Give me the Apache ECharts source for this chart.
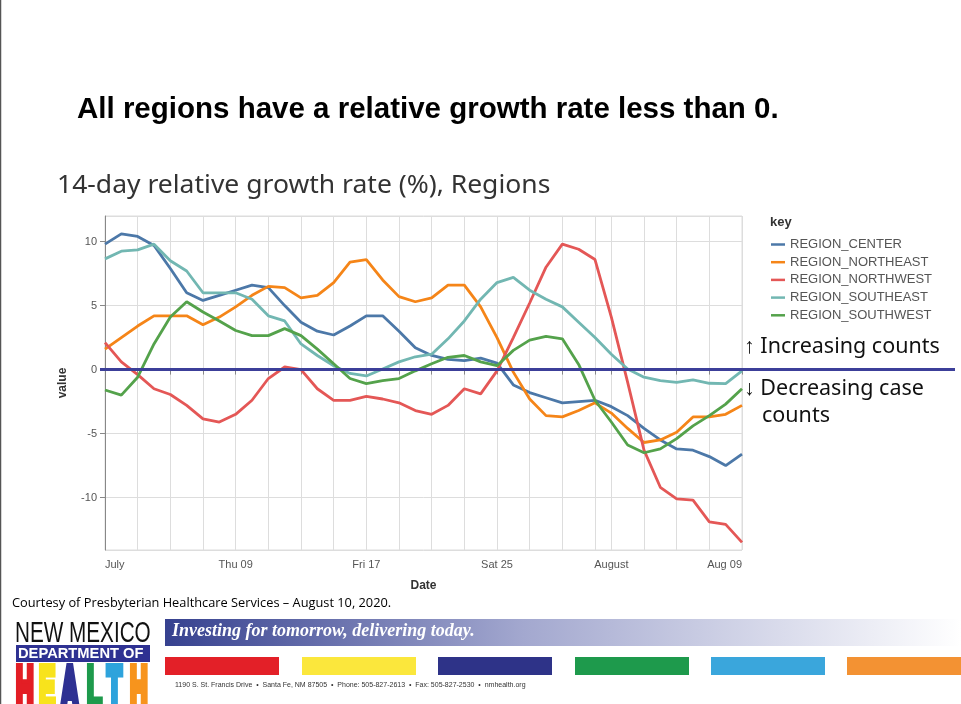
<!DOCTYPE html>
<html>
<head>
<meta charset="utf-8">
<script src="https://cdn.jsdelivr.net/npm/echarts@6/dist/echarts.min.js"></script>
<style>
html,body{margin:0;padding:0;background:#fff;}
#chart{width:961px;height:704px;}
</style>
</head>
<body>
<div id="chart"></div>
<script>
// ---------- data ----------
const categories = [
  "2020-07-01","2020-07-02","2020-07-03","2020-07-04","2020-07-05","2020-07-06","2020-07-07","2020-07-08",
  "2020-07-09","2020-07-10","2020-07-11","2020-07-12","2020-07-13","2020-07-14","2020-07-15","2020-07-16",
  "2020-07-17","2020-07-18","2020-07-19","2020-07-20","2020-07-21","2020-07-22","2020-07-23","2020-07-24",
  "2020-07-25","2020-07-26","2020-07-27","2020-07-28","2020-07-29","2020-07-30","2020-07-31","2020-08-01",
  "2020-08-02","2020-08-03","2020-08-04","2020-08-05","2020-08-06","2020-08-07","2020-08-08","2020-08-09"
];
const tickDates  = ["2020-07-01","2020-07-09","2020-07-17","2020-07-25","2020-08-01","2020-08-09"];
const tickLabels = ["July","Thu 09","Fri 17","Sat 25","August","Aug 09"];
const gridDates = [
  "2020-07-01","2020-07-03","2020-07-05","2020-07-07","2020-07-09","2020-07-11","2020-07-13","2020-07-15",
  "2020-07-17","2020-07-19","2020-07-21","2020-07-23","2020-07-25","2020-07-27","2020-07-29","2020-07-31",
  "2020-08-01","2020-08-03","2020-08-05","2020-08-07","2020-08-09"
];
const seriesNames = ["REGION_CENTER","REGION_NORTHEAST","REGION_NORTHWEST","REGION_SOUTHEAST","REGION_SOUTHWEST"];
const regionCenter = [9.8,10.6,10.4,9.7,7.9,6.0,5.4,5.8,6.2,6.6,6.4,5.0,3.7,3.0,2.7,3.4,4.2,4.2,3.0,1.7,
  1.1,0.8,0.7,0.9,0.5,-1.2,-1.8,-2.2,-2.6,-2.5,-2.4,-2.9,-3.6,-4.6,-5.5,-6.2,-6.3,-6.8,-7.5,-6.6];
const regionNortheast = [1.6,2.5,3.4,4.2,4.2,4.2,3.5,4.1,4.9,5.8,6.5,6.4,5.6,5.8,6.8,8.4,8.6,7.0,5.7,5.3,
  5.6,6.6,6.6,4.9,2.5,-0.2,-2.3,-3.6,-3.7,-3.2,-2.6,-3.4,-4.6,-5.7,-5.5,-4.9,-3.7,-3.7,-3.5,-2.8];
const regionNorthwest = [2.1,0.6,-0.4,-1.5,-1.95,-2.8,-3.85,-4.1,-3.5,-2.4,-0.7,0.2,0.0,-1.5,-2.4,-2.4,-2.1,-2.3,-2.6,-3.2,
  -3.5,-2.8,-1.5,-1.9,-0.1,2.5,5.2,8.0,9.8,9.4,8.6,4.1,-1.0,-6.3,-9.2,-10.1,-10.2,-11.9,-12.1,-13.5];
const regionSoutheast = [8.65,9.25,9.35,9.8,8.5,7.7,6.0,6.0,6.0,5.5,4.2,3.8,2.0,1.1,0.3,-0.3,-0.5,0.05,0.6,1.0,
  1.2,2.4,3.8,5.5,6.8,7.2,6.2,5.5,4.9,3.7,2.5,1.2,0.05,-0.6,-0.86,-1.0,-0.8,-1.07,-1.1,-0.1];
const regionSouthwest = [-1.6,-2.0,-0.6,2.0,4.1,5.3,4.5,3.8,3.05,2.65,2.65,3.2,2.65,1.6,0.45,-0.7,-1.1,-0.86,-0.7,-0.1,
  0.45,0.96,1.1,0.6,0.3,1.5,2.3,2.6,2.4,0.4,-2.4,-4.1,-5.9,-6.5,-6.2,-5.4,-4.4,-3.6,-2.7,-1.5];
const referenceValue = 0;
const seriesColors = ["#4c78a8","#f58518","#e45756","#72b7b2","#54a24b"];
const seriesValues = [regionCenter, regionNortheast, regionNorthwest, regionSoutheast, regionSouthwest];

// ---------- chart ----------
const chart = echarts.init(document.getElementById('chart'), null, {renderer:'canvas'});
const sans = '"Liberation Sans", Arial, sans-serif';

const healthLetters = [
  {t:'H', c:'#e31e25', x:16},
  {t:'E', c:'#f8e31c', x:39},
  {t:'A', c:'#2e3192', x:61},
  {t:'L', c:'#1e9a4c', x:87},
  {t:'T', c:'#2ea3dc', x:107},
  {t:'H', c:'#f7941d', x:130}
];
const bars = [
  {x:165, c:'#e32028'}, {x:302, c:'#fbe73c'}, {x:438, c:'#2e3388'},
  {x:575, c:'#1e9a4c'}, {x:711, c:'#3aa6dc'}, {x:847, c:'#f39233'}
];

const graphics = [
  {id:'leftborder', type:'line', shape:{x1:0.5,y1:0,x2:0.5,y2:704}, style:{stroke:'#555', lineWidth:1.5}},
  {id:'maintitle', type:'text', x:77, y:95, style:{text:'All regions have a relative growth rate less than 0.', font:'bold 29.5px "Liberation Sans", Arial, sans-serif', fill:'#000'}},
  {id:'charttitle', type:'text', x:57, y:173, scaleX:1.06, style:{text:'14-day relative growth rate (%), Regions', font:'25px "Noto Sans", sans-serif', fill:'#333'}},
  {id:'keytitle', type:'text', x:770, y:216, style:{text:'key', font:'bold 13px ' + sans, fill:'#333'}},
  {id:'inc', type:'text', x:744, y:336, style:{text:'\u2191 Increasing counts', font:'21.5px "Noto Sans", sans-serif', fill:'#111'}},
  {id:'dec1', type:'text', x:744, y:378, style:{text:'\u2193 Decreasing case', font:'21.5px "Noto Sans", sans-serif', fill:'#111'}},
  {id:'dec2', type:'text', x:762, y:405, style:{text:'counts', font:'21.5px "Noto Sans", sans-serif', fill:'#111'}},
  {id:'courtesy', type:'text', x:12, y:597, style:{text:'Courtesy of Presbyterian Healthcare Services \u2013 August 10, 2020.', font:'12.8px "Open Sans", sans-serif', fill:'#000'}},
  {id:'nm', type:'text', x:15, y:619, scaleX:0.69, style:{text:'NEW MEXICO', font:'30px ' + sans, fill:'#111'}},
  {id:'deptbox', type:'rect', shape:{x:16,y:645,width:134,height:17}, style:{fill:'#2e3192'}},
  {id:'dept', type:'text', x:18, y:646, scaleX:0.98, style:{text:'DEPARTMENT OF', font:'bold 15px ' + sans, fill:'#fff'}},
  {id:'banner', type:'rect', shape:{x:165,y:619,width:796,height:27},
    style:{fill:new echarts.graphic.LinearGradient(0,0,1,0,[{offset:0,color:'#36418f'},{offset:0.45,color:'#a3a8cf'},{offset:1,color:'#ffffff'}])}},
  {id:'slogan', type:'text', x:172, y:622, style:{text:'Investing for tomorrow, delivering today.', font:'italic bold 18px "Liberation Serif", serif', fill:'#fff'}},
  {id:'addr', type:'text', x:175, y:682, style:{text:'1190 S. St. Francis Drive  \u2022  Santa Fe, NM 87505  \u2022  Phone: 505-827-2613  \u2022  Fax: 505-827-2530  \u2022  nmhealth.org', font:'7px ' + sans, fill:'#333'}}
];
healthLetters.forEach((h,i)=>{
  graphics.push({id:'hl'+i, type:'text', x:h.x, y:662, scaleX:0.42, scaleY:1,
    style:{text:h.t, font:'bold 58px ' + sans, fill:h.c, stroke:h.c, lineWidth:8, lineJoin:'miter'}});
});
bars.forEach((b,i)=>{
  graphics.push({id:'bar'+i, type:'rect', shape:{x:b.x,y:657,width:114,height:18}, style:{fill:b.c}});
});

const option = {
  animation:false,
  backgroundColor:'#ffffff',
  color: seriesColors,
  grid:{left:105, right:219, top:216, bottom:154, containLabel:false, show:true, borderColor:'#dddddd', borderWidth:1, backgroundColor:'#ffffff'},
  legend:{
    orient:'vertical', left:766, top:233, itemWidth:14, itemHeight:2.5, itemGap:4.7, icon:'rect',
    textStyle:{fontSize:13, color:'#555', fontFamily:sans},
    data: seriesNames
  },
  xAxis:{
    type:'category', data:categories, boundaryGap:false,
    name:'Date', nameLocation:'middle', nameGap:30,
    nameTextStyle:{fontWeight:'bold', fontSize:12, color:'#333', fontFamily:sans},
    axisLine:{show:true, lineStyle:{color:'#888', width:1}},
    axisTick:{show:true, length:5, lineStyle:{color:'#888'}, interval:(i,v)=>gridDates.includes(v)},
    splitLine:{show:true, lineStyle:{color:'#dddddd', width:1}, interval:(i,v)=>gridDates.includes(v)},
    axisLabel:{
      interval:(i,v)=>tickDates.includes(v),
      formatter:(v)=>tickLabels[tickDates.indexOf(v)],
      fontSize:11, color:'#555', fontFamily:sans, margin:9,
      alignMinLabel:'left', alignMaxLabel:'right'
    }
  },
  yAxis:{
    type:'value', min:-14.1, max:12, splitNumber:5, minInterval:5, maxInterval:5,
    name:'value', nameLocation:'middle', nameGap:36,
    nameTextStyle:{fontWeight:'bold', fontSize:12, color:'#333', fontFamily:sans},
    axisLine:{show:true, lineStyle:{color:'#888', width:1}},
    axisTick:{show:true, length:5, lineStyle:{color:'#888'}},
    splitLine:{show:true, lineStyle:{color:'#dddddd', width:1}},
    axisLabel:{fontSize:11, color:'#555', fontFamily:sans, margin:8, showMinLabel:false, showMaxLabel:false}
  },
  series: seriesNames.map((n,i)=>({
    name:n, type:'line', data:seriesValues[i], symbol:'none', smooth:false,
    lineStyle:{width:2.8, color:seriesColors[i]}, itemStyle:{color:seriesColors[i]}
  })),
  graphic:{elements:graphics}
};
chart.setOption(option);
const y0 = chart.convertToPixel({yAxisIndex:0}, referenceValue);
const xLeft = chart.convertToPixel({xAxisIndex:0}, categories[0]) - 5;
graphics.push({id:'zeroline', type:'line', z:100, shape:{x1:xLeft, y1:y0, x2:955, y2:y0}, style:{stroke:'#3c3f99', lineWidth:3}});
option.graphic = {elements:graphics};
chart.setOption(option, true);
</script>
</body>
</html>
